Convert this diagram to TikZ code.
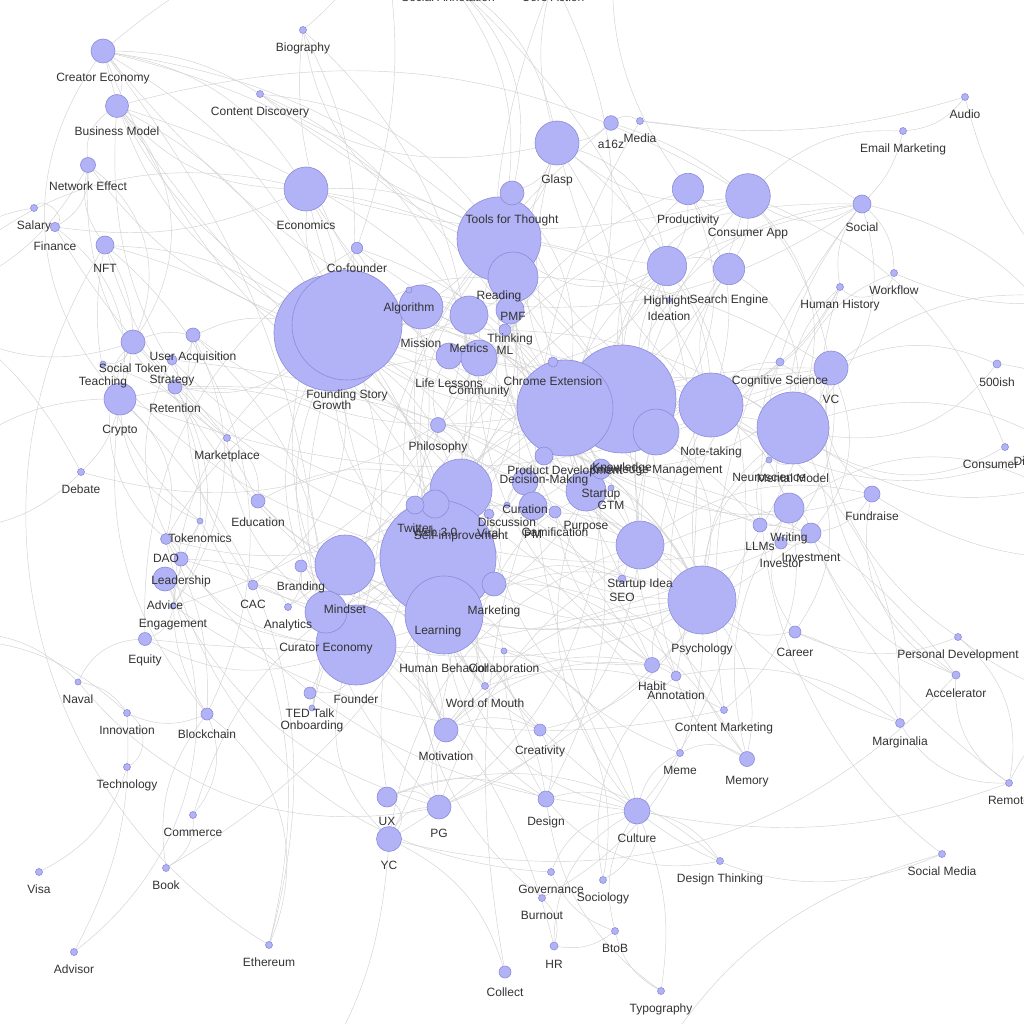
\documentclass[tikz,border=0pt]{standalone}
\usepackage{fontspec}
\setmainfont{Liberation Sans}
\pgfdeclarelayer{bg}\pgfdeclarelayer{fg}\pgfsetlayers{bg,main,fg}
\definecolor{lav}{RGB}{178,178,246}
\definecolor{lavb}{RGB}{140,140,218}
\definecolor{edgec}{RGB}{210,210,210}
\definecolor{txt}{RGB}{51,51,51}
\tikzset{
  dot/.style={circle,draw=lavb,fill=lav,inner sep=0pt,line width=0.6pt},
  lbl/.style={font=\fontsize{12}{14}\selectfont,text=txt,inner sep=0pt,text height=8.6pt,text depth=0pt},
  edge/.style={draw=edgec,line width=0.45pt}
}
\newcommand\gnode[5]{%
  \node[dot,minimum size=#4*2pt] (#1) at (#2,#3) {};
  \begin{pgfonlayer}{fg}\node[lbl] (#1-l) at (#2,#3+#4+14) {#5};\end{pgfonlayer}}
\begin{document}
\begin{tikzpicture}[x=1pt,y=-1pt]
\useasboundingbox (0,0) rectangle (1024,1024);
\begin{pgfonlayer}{bg}\fill[white] (0,0) rectangle (1024,1024);\end{pgfonlayer}
% off-screen anchors
\coordinate (oT1) at (380,-80); \coordinate (oT2) at (620,-90);
\coordinate (oR1) at (1100,420); \coordinate (oR2) at (1090,560);
\coordinate (oR3) at (1080,300); \coordinate (oR4) at (1100,700);
\coordinate (oL1) at (-80,300); \coordinate (oL2) at (-90,520);
\coordinate (oL3) at (-70,640); \coordinate (oB1) at (300,1100);
\coordinate (oB2) at (640,1090);
% big nodes first
\gnode{gro}{332}{333}{58}{Growth}
\gnode{fs}{347}{325}{55}{Founding Story}
\gnode{rea}{499}{239}{42}{Reading}
\gnode{pmf}{513}{277}{25}{PMF}
\gnode{tft}{512}{193}{12}{Tools for Thought}
\gnode{thk}{510}{310}{14}{Thinking}
\gnode{ml}{505}{330}{6}{ML}
\gnode{mis}{421}{307}{22}{Mission}
\gnode{alg}{409}{290}{3}{Algorithm}
\gnode{met}{469}{315}{19}{Metrics}
\gnode{ll}{449}{356}{13}{Life Lessons}
\gnode{com}{479}{358}{18}{Community}
\gnode{kmb}{622}{399}{54}{Knowledge}
\gnode{pd}{565}{408}{48}{Product Development}
\gnode{chr}{553}{362}{5}{Chrome Extension}
\gnode{km}{656}{432}{23}{Knowledge Management}
\gnode{nt}{711}{405}{32}{Note-taking}
\gnode{dm}{544}{456}{9}{Decision-Making}
\gnode{cura}{525}{482}{13}{Curation}
\gnode{pm}{533}{506}{14}{PM}
\gnode{gam}{555}{512}{6}{Gamification}
\gnode{pur}{586}{491}{20}{Purpose}
\gnode{sup}{601}{469}{10}{Startup}
\gnode{gtm}{611}{488}{3}{GTM}
\gnode{si}{461}{490}{31}{Self-improvement}
\gnode{lrn}{438}{558}{58}{Learning}
\gnode{hb}{444}{615}{39}{Human Behavior}
\gnode{web}{435}{504}{14}{Web 3.0}
\gnode{twi}{415}{505}{9}{Twitter}
\gnode{vir}{489}{514}{5}{Viral}
\gnode{dis}{507}{505}{3}{Discussion}
\gnode{mkt}{494}{584}{12}{Marketing}
\gnode{col}{504}{651}{3}{Collaboration}
\gnode{mind}{345}{565}{30}{Mindset}
\gnode{fou}{356}{645}{40}{Founder}
\gnode{cur}{326}{612}{21}{Curator Economy}
\gnode{phi}{438}{425}{7.5}{Philosophy}
\gnode{sti}{640}{545}{24}{Startup Idea}
\gnode{seo}{622}{579}{4}{SEO}
\gnode{psy}{702}{600}{34}{Psychology}
\gnode{mm}{793}{428}{36}{Mental Model}
\gnode{neu}{769}{460}{3}{Neuroscience}
\gnode{cs}{780}{362}{4}{Cognitive Science}
\gnode{vc}{831}{368}{17}{VC}
% top
\gnode{ce}{103}{51}{12}{Creator Economy}
\gnode{bm}{117}{106}{11.5}{Business Model}
\gnode{ne}{88}{165}{7.5}{Network Effect}
\gnode{sal}{34}{208}{3.5}{Salary}
\gnode{fin}{55}{227}{4.7}{Finance}
\gnode{nft}{105}{245}{9}{NFT}
\gnode{bio}{303}{30}{3.5}{Biography}
\gnode{cd}{260}{94}{3.5}{Content Discovery}
\gnode{eco}{306}{189}{22}{Economics}
\gnode{cof}{357}{248}{5.7}{Co-founder}
\gnode{gla}{557}{143}{22}{Glasp}
\gnode{a16}{611}{123}{7.3}{a16z}
\gnode{med}{640}{121}{3.5}{Media}
\gnode{pro}{688}{189}{15.7}{Productivity}
\gnode{cap}{748}{196}{22.3}{Consumer App}
\gnode{aud}{965}{97}{3.5}{Audio}
\gnode{em}{903}{131}{3.5}{Email Marketing}
\gnode{soc}{862}{204}{9}{Social}
\gnode{wf}{894}{273}{3.5}{Workflow}
\gnode{hh}{840}{287}{3.5}{Human History}
\gnode{hl}{667}{266}{19.7}{Highlight}
\gnode{se}{729}{269}{15.7}{Search Engine}
\gnode{ide}{669}{300}{2.5}{Ideation}
\gnode{sa}{448}{-21}{4}{Social Annotation}
\gnode{ca}{553}{-21}{4}{Core Action}
% left
\gnode{st}{133}{342}{12}{Social Token}
\gnode{tea}{103}{364}{3}{Teaching}
\gnode{ua}{193}{335}{7}{User Acquisition}
\gnode{str}{172}{360}{5}{Strategy}
\gnode{ret}{175}{387}{7}{Retention}
\gnode{cry}{120}{399}{16}{Crypto}
\gnode{mkp}{227}{438}{3.5}{Marketplace}
\gnode{deb}{81}{472}{3.5}{Debate}
\gnode{edu}{258}{501}{7}{Education}
\gnode{tok}{200}{521}{3}{Tokenomics}
\gnode{dao}{166}{539}{5.5}{DAO}
\gnode{lea}{181}{559}{7}{Leadership}
\gnode{adv}{165}{579}{12}{Advice}
\gnode{eng}{173}{606}{3}{Engagement}
\gnode{equ}{145}{639}{6.5}{Equity}
\gnode{cac}{253}{585}{5}{CAC}
\gnode{nav}{78}{682}{3}{Naval}
\gnode{bra}{301}{566}{6}{Branding}
\gnode{ana}{288}{607}{3.5}{Analytics}
% right
\gnode{fiveh}{997}{364}{4}{500ish}
\gnode{ct}{1005}{447}{3.5}{Consumer Tech}
\gnode{dg}{1052}{443}{4}{Digital Garden}
\gnode{gx}{1048}{488}{4}{Gaming}
\gnode{fr}{872}{494}{8}{Fundraise}
\gnode{wri}{789}{508}{15}{Writing}
\gnode{inv}{811}{533}{10}{Investment}
\gnode{ivr}{781}{543}{6}{Investor}
\gnode{llm}{760}{525}{7}{LLMs}
\gnode{car}{795}{632}{6}{Career}
\gnode{pdv}{958}{637}{3.5}{Personal Development}
\gnode{acc}{956}{675}{4}{Accelerator}
\gnode{hab}{652}{665}{7.5}{Habit}
\gnode{ann}{676}{676}{5}{Annotation}
% bottom
\gnode{inn}{127}{713}{3.5}{Innovation}
\gnode{blk}{207}{714}{6}{Blockchain}
\gnode{tec}{127}{767}{3.5}{Technology}
\gnode{cmc}{193}{815}{3.5}{Commerce}
\gnode{vis}{39}{872}{3.5}{Visa}
\gnode{bok}{166}{868}{3.5}{Book}
\gnode{avs}{74}{952}{3.5}{Advisor}
\gnode{eth}{269}{945}{3.5}{Ethereum}
\gnode{ted}{310}{693}{6}{TED Talk}
\gnode{onb}{312}{708}{3}{Onboarding}
\gnode{wom}{485}{686}{3.5}{Word of Mouth}
\gnode{mot}{446}{730}{12}{Motivation}
\gnode{ux}{387}{797}{10}{UX}
\gnode{pg}{439}{807}{12}{PG}
\gnode{yc}{389}{839}{12.5}{YC}
\gnode{clt}{505}{972}{6}{Collect}
\gnode{cre}{540}{730}{6}{Creativity}
\gnode{cm}{724}{710}{3.5}{Content Marketing}
\gnode{mem}{680}{753}{3.5}{Meme}
\gnode{mry}{747}{759}{7.5}{Memory}
\gnode{des}{546}{799}{8}{Design}
\gnode{cul}{637}{811}{13}{Culture}
\gnode{dt}{720}{861}{3.5}{Design Thinking}
\gnode{gov}{551}{872}{3.5}{Governance}
\gnode{soci}{603}{880}{3.5}{Sociology}
\gnode{bur}{542}{898}{3.5}{Burnout}
\gnode{btb}{615}{931}{3.5}{BtoB}
\gnode{hr}{554}{946}{4}{HR}
\gnode{typ}{661}{991}{3.5}{Typography}
\gnode{mar}{900}{723}{4.5}{Marginalia}
\gnode{rem}{1009}{783}{3.5}{Remote}
\gnode{sm}{942}{854}{3.5}{Social Media}
% edges
\begin{pgfonlayer}{bg}
\foreach \a/\b/\c in {
ce/bm/20, ce/gro/-15, ce/fs/10, ce/eco/15, ce/rea/10, ce/cry/-25, ce/oT1/10, ce/pd/15, ce/kmb/-10,
bm/ne/-20, bm/gro/10, bm/fs/-10, bm/pd/10, bm/eco/-15, bm/st/25, bm/cap/15, bm/sti/-10,
ne/fin/20, ne/nft/-15, ne/gro/-10, ne/st/25, ne/mkp/-20, ne/oL1/15,
sal/fin/60, sal/oL1/-20, fin/cry/20, fin/eco/-10, fin/inv/-25,
nft/cry/15, nft/gro/10, nft/tok/-20, nft/blk/25, nft/eth/-30,
bio/fs/10, bio/rea/-20, bio/lrn/20, bio/oT1/-10,
cd/rea/15, cd/gla/-15, cd/si/25, cd/hl/-10, cd/ce/-10,
eco/gro/10, eco/fs/-10, eco/psy/-20, eco/kmb/15, eco/cap/-10, eco/rea/10, eco/inv/-15, eco/oL1/-20,
cof/fs/10, cof/fou/-20, cof/sup/15, cof/oT1/-10, cof/vc/-15,
gla/rea/10, gla/a16/-10, gla/tft/15, gla/pd/-15, gla/kmb/10, gla/hl/20, gla/nt/-10, gla/cap/-15, gla/ca/10, gla/sa/-15, gla/cul/30,
a16/med/20, a16/vc/20, a16/fou/-15, med/aud/-8, med/soc/10, med/cul/-20,
pro/cap/-20, pro/hl/10, pro/kmb/-15, pro/nt/15, pro/si/-20, pro/oT2/15,
cap/se/10, cap/soc/-20, cap/pd/15, cap/kmb/-20, cap/mm/20, cap/sti/-15,
aud/em/15, aud/oR3/-10, em/soc/10, em/cap/-15,
soc/wf/15, soc/hh/-15, soc/mm/20, soc/kmb/-20, soc/sm/-30, soc/oR1/20,
wf/mm/-20, wf/hh/40, wf/oR3/-10, hh/nt/10, hh/mm/-15, hh/kmb/20, hh/pdv/-25,
hl/se/15, hl/ide/-20, hl/nt/10, hl/kmb/-15, hl/rea/20, hl/pd/-10, hl/mar/-30,
se/nt/-15, se/mm/20, se/sti/-10, tft/rea/20, tft/pd/15, tft/nt/-15, tft/sa/-20,
rea/pmf/10, rea/lrn/-15, rea/si/15, rea/kmb/-10, rea/nt/20, rea/hb/-20, rea/fs/10, rea/ann/-25,
pmf/thk/20, pmf/sup/-15, pmf/sti/15, pmf/gro/-10, pmf/vc/10,
thk/ml/30, thk/psy/-15, thk/lrn/15, ml/llm/-10, ml/alg/15, ml/mm/10,
alg/mis/20, alg/soc/-15, alg/twi/10, mis/met/15, mis/fs/-10, mis/cul/-20, mis/pur/15,
met/ll/20, met/com/-15, met/gro/10, met/pmf/-10, ll/com/15, ll/phi/-15, ll/bio/20,
com/chr/-10, com/pd/10, com/soc/15, com/dao/-20, com/eng/15,
gro/lrn/-15, gro/mkt/20, gro/ua/-10, gro/ret/15, gro/si/10, gro/fou/-20, gro/sti/15, gro/pd/-10, gro/hb/15, gro/eng/-15, gro/cac/20, gro/wom/-10, gro/seo/15, gro/vc/-15,
fs/fou/10, fs/cur/-15, fs/yc/20, fs/pd/15, fs/mis/-10, fs/sup/20, fs/pg/-20,
st/tea/20, st/cry/-20, st/ua/10, st/tok/15, st/dao/-25, st/oL1/20, tea/lrn/-10, tea/edu/15,
ua/str/20, ua/ret/25, ua/pd/-15, ua/eng/20, str/ret/15, str/lea/-20, str/sti/10, str/pm/-15,
ret/eng/20, ret/hab/-20, ret/psy/15,
cry/tok/-20, cry/dao/20, cry/blk/-15, cry/eth/20, cry/vc/-15, cry/deb/10, cry/oL2/-20,
mkp/bm/15, mkp/cur/-15, mkp/edu/20, mkp/nft/10, deb/phi/-15, deb/oL2/20, deb/oL1/-10,
edu/lrn/-15, edu/si/15, edu/psy/-20, tok/dao/30, tok/blk/-20, tok/eth/15,
dao/lea/20, dao/gov/-25, dao/blk/10, lea/adv/25, lea/cul/-15, lea/mot/20, lea/fou/-15,
adv/eng/15, adv/fou/-10, adv/avs/25, adv/pg/-15, eng/equ/20, eng/cm/-15,
equ/fou/-15, equ/cof/20, equ/nav/-20, equ/inv/-10, cac/ua/15, cac/mkt/-15, cac/ana/20,
nav/pg/-20, nav/inn/15, nav/oL3/-20,
phi/si/15, phi/thk/-15, phi/psy/20,
si/lrn/10, si/web/15, si/twi/-20, si/vir/15, si/mot/-20, si/hab/15, si/psy/-15, si/kmb/20, si/bur/-25,
web/twi/20, web/cry/-20, web/dao/15, web/nft/-15, twi/vir/-20, twi/soc/15, twi/wom/-15, twi/cur/20,
vir/dis/20, vir/mkt/15, vir/mem/-20, dis/cura/15, dis/com/-20,
mind/lrn/15, mind/cur/-20, mind/si/10, mind/psy/-15, mind/hb/20, mind/mot/15,
cur/fou/15, cur/ce/-10, cur/bra/20, cur/cura/-15,
fou/yc/-20, fou/pg/15, fou/ted/20, fou/sup/-15, fou/vc/20, fou/inv/-15, fou/mot/15,
bra/ana/15, bra/mkt/-20, bra/des/25, ana/met/-15,
lrn/hb/10, lrn/psy/-15, lrn/mot/20, lrn/cre/-15, lrn/mem/15,
hb/psy/15, hb/mot/-15, hb/col/20, hb/wom/10, hb/cul/-20, hb/soci/25, hb/des/-15,
mkt/seo/15, mkt/wom/-15, mkt/cm/20, col/cre/-15, col/cul/20, col/des/-10,
kmb/pd/15, kmb/nt/-10, kmb/km/20, kmb/sup/-15, kmb/mm/15, kmb/psy/20, kmb/lrn/-20, kmb/chr/10,
chr/pd/20, chr/hl/-15, chr/gla/10,
pd/dm/15, pd/sup/-10, pd/pm/20, pd/ux/-20, pd/des/15, pd/sti/-15, pd/llm/10,
dm/psy/15, dm/cura/-20, dm/thk/15, cura/pm/20, cura/gam/-15, cura/ce/15,
pm/gam/20, pm/sti/-10, gam/hab/-15, gam/psy/15,
sup/gtm/20, sup/sti/15, sup/vc/-15, sup/yc/20, sup/fr/-15, sup/pur/10, sup/acc/15,
gtm/mkt/-15, gtm/seo/20, pur/mis/-15, pur/psy/15, pur/cul/-20,
km/nt/15, km/pro/-20, km/mm/10, km/hl/15, km/ann/-15,
sti/seo/-20, sti/psy/15, sti/yc/-20, sti/pg/20, sti/fr/15,
psy/mm/15, psy/hab/-20, psy/mry/15, psy/car/-15, psy/cs/20, psy/mot/-15, psy/bur/20,
nt/mm/-15, nt/mar/20, nt/ann/-15, nt/wri/10, nt/mry/-20, nt/cs/15,
hab/ann/20, hab/mot/-15, ann/mar/15, ann/soci/-20,
llm/mm/15, llm/wri/-20, cs/mm/20, cs/neu/-15,
vc/inv/20, vc/fr/-20, vc/ivr/15, vc/acc/-20, vc/oR3/15,
mm/neu/20, mm/wri/-15, mm/car/20, neu/psy/-15,
fiveh/vc/-15, fiveh/mm/20, fiveh/oR1/15, ct/cap/-15, ct/mm/20, dg/nt/20, dg/mm/-15, gx/mm/15, gx/wri/-20,
fr/inv/15, fr/acc/-25, fr/oR2/-10, wri/inv/15, wri/car/-20, wri/mry/-15, wri/cm/20,
inv/ivr/20, inv/acc/-15, inv/rem/-10, car/pdv/-15, car/mar/15, pdv/oR4/-10, pdv/rem/20, acc/rem/-20,
inn/tec/40, inn/blk/-15, inn/oL3/-15, blk/eth/25, blk/bok/-15, tec/vis/15,
cmc/bok/20, cmc/blk/-20, cmc/lrn/15, bok/rea/-20, avs/inn/-10,
ted/onb/20, ted/lrn/10, onb/ua/-20, onb/pd/15, wom/cm/15,
mot/cre/15, mot/pg/-15, mot/hab/20, ux/des/15, ux/pg/20, ux/yc/30,
pg/yc/-20, pg/vc/-15, pg/wri/20, yc/clt/15, yc/acc/-20, yc/oB1/10, clt/hl/15,
cre/des/15, cre/psy/-15, cm/soc/15, mem/cul/-15, mem/mry/20, mry/lrn/-15, mry/ann/15,
des/cul/15, des/dt/-20, cul/soci/20, cul/typ/10, cul/btb/-15, cul/dt/15, cul/hr/-20, cul/rem/-10,
dt/ux/-20, gov/btb/-15, gov/cul/20, bur/hr/20, btb/hr/15, btb/typ/-15, hr/lea/-20, typ/des/15,
mar/rem/-20, rem/oR4/15, sm/oB2/-15, sm/cul/20,
sa/rea/15, sa/ann/20, sa/oT1/-10, ca/hab/-20, ca/pd/15
} {\pgfmathsetmacro\bb{1.5*\c}\draw[edge] (\a) to[bend left=\bb] (\b);}
\end{pgfonlayer}
\end{tikzpicture}
\end{document}
